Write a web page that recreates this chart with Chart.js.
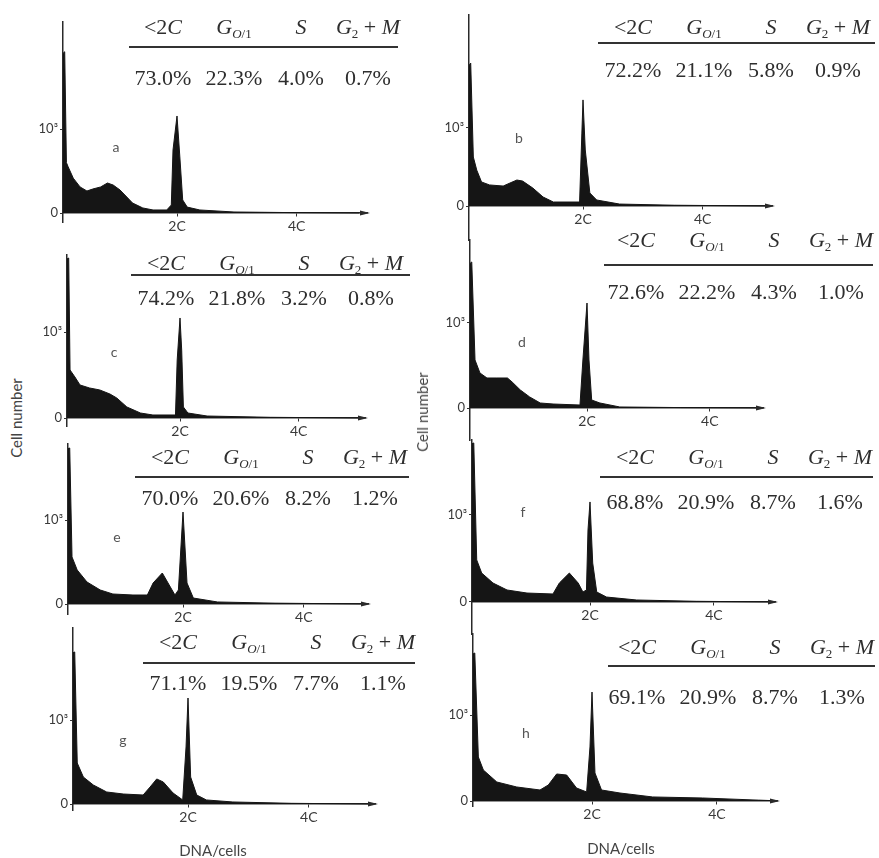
<!DOCTYPE html>
<html>
<head>
<meta charset="utf-8">
<title>DNA histograms</title>
<script src="https://cdn.jsdelivr.net/npm/chart.js@4.4.1/dist/chart.umd.min.js"></script>
<style>
    body { margin: 0; background: #fff; }
    #figure { position: relative; width: 879px; height: 858px; overflow: hidden; font-family: Lato, 'Open Sans', sans-serif; color: #3a3a3a; }
    #figure canvas { position: absolute; }
    .cell { position: absolute; width: 110px; text-align: center; font-family: 'Liberation Serif', 'DejaVu Serif', serif; font-size: 22px; line-height: 24px; color: #2e2e2e; white-space: nowrap; }
    .cell i { font-style: italic; }
    .cell sub { font-size: 13px; vertical-align: -4px; line-height: 0; }
    .rule { position: absolute; height: 0; border-top: 2px solid #333; }
    .letter { position: absolute; width: 20px; text-align: center; font-size: 14px; line-height: 14px; color: #555; }
    .title { position: absolute; font-size: 15px; line-height: 18px; color: #444; white-space: nowrap; }
    .title.vertical { transform: translate(-50%, -50%) rotate(-90deg); }
    .title.horizontal { transform: translate(-50%, -50%); }
</style>
</head>
<body>
<div id="figure"></div>
<script>
// Axis ticks
const dnaTickValues = [100, 205];
const dnaTickLabels = ['2C', '4C'];
const countTickValues = [0, 1000];
const countTickLabels = ['0', '10\u00B3'];

// Table header (cell-cycle phases)
const phaseLabels = ['&lt;2<i>C</i>', '<i>G</i><sub><i>O</i>/1</sub>', '<i>S</i>', '<i>G</i><sub>2</sub> + <i>M</i>'];

// Histograms: channel (2C peak = 100) and cell counts
const channelsA = [0, 1.5, 3, 4.5, 9, 15, 21, 26, 33, 39, 44, 50, 56, 61, 70, 79, 91, 95, 96.5, 100, 102.5, 105, 109, 120, 150, 200, 260];
const countsA   = [1900, 1920, 600, 550, 415, 310, 262, 285, 310, 357, 333, 274, 190, 119, 60, 36, 36, 95, 750, 1155, 667, 155, 70, 36, 12, 5, 0];

const channelsB = [0, 1.5, 3.8, 6.8, 11, 18, 30, 36, 42, 47, 56, 65, 74, 97, 99, 100, 102, 106, 112, 132, 180, 260];
const countsB   = [1800, 1833, 628, 460, 308, 270, 256, 295, 333, 320, 230, 115, 51, 51, 935, 1360, 718, 167, 77, 25, 10, 0];

const channelsC = [0, 1.5, 2.7, 7, 11.5, 20, 29, 38, 44, 53, 65, 76, 96, 97.5, 100, 101.5, 103, 107, 124, 180, 260];
const countsC   = [1850, 1860, 558, 477, 384, 349, 326, 279, 233, 128, 58, 35, 35, 674, 1163, 790, 128, 58, 23, 8, 0];

const channelsD = [0, 1.5, 4.3, 8.5, 14.5, 23, 32, 36, 43, 51, 60, 71, 94, 96.5, 100, 101.7, 104, 111, 128, 180, 260];
const countsD   = [1700, 1718, 565, 412, 353, 353, 353, 306, 212, 130, 59, 47, 35, 565, 1235, 565, 94, 59, 12, 5, 0];

const channelsE = [0, 1.5, 3.5, 8, 16.5, 28, 39, 56.5, 69, 74, 82, 87, 93, 96, 100, 103.5, 109, 130, 180, 260];
const countsE   = [1850, 1857, 560, 405, 262, 167, 119, 107, 107, 250, 369, 250, 107, 167, 1095, 250, 71, 24, 10, 0];

const channelsF = [0, 1.5, 4, 8.2, 17.8, 29.7, 46.6, 68.6, 74, 82.5, 90, 94, 97, 98.3, 100, 102.3, 105.7, 114, 139.5, 190, 260];
const countsF   = [1820, 1828, 483, 333, 218, 138, 103, 92, 218, 333, 218, 115, 138, 828, 1150, 448, 115, 57, 23, 8, 0];

const channelsG = [0, 1.5, 3.7, 9, 17.7, 29.3, 43.7, 61, 67, 72.8, 78.5, 87, 95.4, 98.3, 100, 102.3, 107.6, 116, 139, 190, 260];
const countsG   = [1800, 1810, 488, 321, 226, 143, 119, 107, 202, 298, 262, 131, 48, 679, 1262, 321, 107, 48, 24, 8, 0];

const channelsH = [0, 1.5, 4.5, 8.7, 20, 36.7, 56.3, 63.3, 70.3, 78.7, 87, 95.5, 98.3, 100, 102.5, 108, 123.5, 151, 193, 240, 260];
const countsH   = [1710, 1721, 512, 360, 221, 163, 128, 186, 314, 302, 151, 105, 628, 1267, 326, 128, 93, 47, 35, 10, 0];

// Phase percentages per panel: <2C, G0/1, S, G2+M
const percentsA = [73.0, 22.3, 4.0, 0.7];
const percentsB = [72.2, 21.1, 5.8, 0.9];
const percentsC = [74.2, 21.8, 3.2, 0.8];
const percentsD = [72.6, 22.2, 4.3, 1.0];
const percentsE = [70.0, 20.6, 8.2, 1.2];
const percentsF = [68.8, 20.9, 8.7, 1.6];
const percentsG = [71.1, 19.5, 7.7, 1.1];
const percentsH = [69.1, 20.9, 8.7, 1.3];

const series = {
    a: [channelsA, countsA, percentsA],
    b: [channelsB, countsB, percentsB],
    c: [channelsC, countsC, percentsC],
    d: [channelsD, countsD, percentsD],
    e: [channelsE, countsE, percentsE],
    f: [channelsF, countsF, percentsF],
    g: [channelsG, countsG, percentsG],
    h: [channelsH, countsH, percentsH]
};

// Page placement of each panel (pixels): axis x, baseline, 10^3 line, axis ends, 2C offset,
// table [rule x1, rule x2, header y, rule y, values y, column shift] and letter position
const panels = [
    { key: 'a', X: 63,  B: 213, T: 129, top: 22,  bottom: 222, arrow: 367, p2: 114, tbl: [129, 398, 27, 47, 78, -1],   letter: [116, 147] },
    { key: 'b', X: 469, B: 206, T: 128, top: 15,  bottom: 240, arrow: 772, p2: 114, tbl: [598, 875, 27, 43, 70, 0],    letter: [519, 138] },
    { key: 'c', X: 67,  B: 418, T: 332, top: 255, bottom: 426, arrow: 365, p2: 113, tbl: [131, 410, 263, 275, 298, 0], letter: [114, 352] },
    { key: 'd', X: 470, B: 408, T: 323, top: 240, bottom: 440, arrow: 763, p2: 117, tbl: [604, 873, 240, 265, 292, -3], letter: [522, 342] },
    { key: 'e', X: 68,  B: 604, T: 520, top: 444, bottom: 614, arrow: 368, p2: 115, tbl: [135, 409, 457, 477, 498, 0], letter: [117, 537] },
    { key: 'f', X: 472, B: 602, T: 515, top: 440, bottom: 634, arrow: 775, p2: 118, tbl: [600, 873, 457, 477, 502, 0], letter: [523, 512] },
    { key: 'g', X: 73,  B: 804, T: 720, top: 628, bottom: 810, arrow: 375, p2: 115, tbl: [143, 415, 642, 663, 683, 0], letter: [123, 740] },
    { key: 'h', X: 473, B: 801, T: 715, top: 634, bottom: 806, arrow: 777, p2: 119, tbl: [608, 875, 647, 666, 697, -6], letter: [526, 733] }
];
const columnCenters = [35, 106, 173, 240];

// Arrow head at the end of the DNA axis
const arrowHead = {
    id: 'arrowHead',
    afterDraw(chart) {
        const { ctx, chartArea, scales } = chart;
        const yb = scales.y.getPixelForValue(0);
        const xe = chartArea.right;
        ctx.save();
        ctx.fillStyle = '#2a2a2a';
        ctx.beginPath();
        ctx.moveTo(xe + 3, yb);
        ctx.lineTo(xe - 7, yb - 2.5);
        ctx.lineTo(xe - 7, yb + 2.5);
        ctx.closePath();
        ctx.fill();
        ctx.restore();
    }
};

document.addEventListener('DOMContentLoaded', () => {
    const fig = document.getElementById('figure');
    panels.forEach(p => {
        drawHistogram(fig, p);
        drawTable(fig, p);
        addText(fig, 'letter', p.key, p.letter[0] - 10, p.letter[1] - 7);
    });
    addTitle(fig, 'Cell number', 16, 418, 'vertical');
    addTitle(fig, 'Cell number', 422, 412, 'vertical');
    addTitle(fig, 'DNA/cells', 213, 850, 'horizontal');
    addTitle(fig, 'DNA/cells', 621, 848, 'horizontal');
});

function drawHistogram(fig, p) {
    const [xs, ys] = series[p.key];
    const k = (p.B - p.T) / 1000;
    const padBottom = Math.max(6, p.B + 30 - p.bottom);
    const canvas = document.createElement('canvas');
    canvas.width = p.arrow - p.X + 50;
    canvas.height = p.bottom - p.top + 4 + padBottom;
    canvas.style.left = (p.X - 40) + 'px';
    canvas.style.top = (p.top - 4) + 'px';
    fig.appendChild(canvas);

    new Chart(canvas.getContext('2d'), {
        type: 'line',
        data: {
            datasets: [{
                data: xs.map((x, i) => ({ x: x, y: ys[i] })),
                fill: 'origin',
                backgroundColor: '#151515',
                borderColor: '#151515',
                borderWidth: 1,
                pointRadius: 0,
                tension: 0
            }]
        },
        options: {
            responsive: false,
            animation: false,
            layout: { padding: { left: 0, right: 10, top: 4, bottom: padBottom } },
            plugins: { legend: { display: false }, tooltip: { enabled: false } },
            scales: {
                x: {
                    type: 'linear',
                    min: 0,
                    max: (p.arrow - p.X) / (p.p2 / 100),
                    position: { y: 0 },
                    afterBuildTicks: s => { s.ticks = dnaTickValues.map(v => ({ value: v })); },
                    afterFit: s => { s.height = 0; s.paddingLeft = 0; s.paddingRight = 0; },
                    grid: { drawOnChartArea: false, tickLength: 3, color: '#333' },
                    border: { color: '#2a2a2a', width: 1.5 },
                    ticks: {
                        autoSkip: false, maxRotation: 0, padding: 2, color: '#3a3a3a',
                        font: { family: 'Lato', size: 14 },
                        callback: v => dnaTickLabels[dnaTickValues.indexOf(v)]
                    }
                },
                y: {
                    type: 'linear',
                    min: -(p.bottom - p.B) / k,
                    max: (p.B - p.top) / k,
                    afterBuildTicks: s => { s.ticks = countTickValues.map(v => ({ value: v })); },
                    afterFit: s => { s.width = 40; s.paddingTop = 0; s.paddingBottom = 0; },
                    grid: { drawOnChartArea: false, tickLength: 3, color: '#333' },
                    border: { color: '#2a2a2a', width: 1.5 },
                    ticks: {
                        padding: 2, color: '#3a3a3a',
                        font: { family: 'Lato', size: 13 },
                        callback: v => countTickLabels[countTickValues.indexOf(v)]
                    }
                }
            }
        },
        plugins: [arrowHead]
    });
}

function drawTable(fig, p) {
    const [x1, x2, headY, ruleY, valY, shift] = p.tbl;
    const percents = series[p.key][2];
    phaseLabels.forEach((label, i) => {
        addCell(fig, label, x1 + columnCenters[i] + shift, headY);
        addCell(fig, percents[i].toFixed(1) + '%', x1 + columnCenters[i] + shift, valY);
    });
    const rule = document.createElement('div');
    rule.className = 'rule';
    rule.style.left = x1 + 'px';
    rule.style.top = (ruleY - 1) + 'px';
    rule.style.width = (x2 - x1) + 'px';
    fig.appendChild(rule);
}

function addCell(fig, html, cx, cy) {
    const cell = document.createElement('div');
    cell.className = 'cell';
    cell.innerHTML = html;
    cell.style.left = (cx - 55) + 'px';
    cell.style.top = (cy - 12) + 'px';
    fig.appendChild(cell);
}

function addText(fig, cls, text, x, y) {
    const el = document.createElement('div');
    el.className = cls;
    el.textContent = text;
    el.style.left = x + 'px';
    el.style.top = y + 'px';
    fig.appendChild(el);
}

function addTitle(fig, text, cx, cy, dir) {
    const el = document.createElement('div');
    el.className = 'title ' + dir;
    el.textContent = text;
    el.style.left = cx + 'px';
    el.style.top = cy + 'px';
    fig.appendChild(el);
}
</script>
</body>
</html>
